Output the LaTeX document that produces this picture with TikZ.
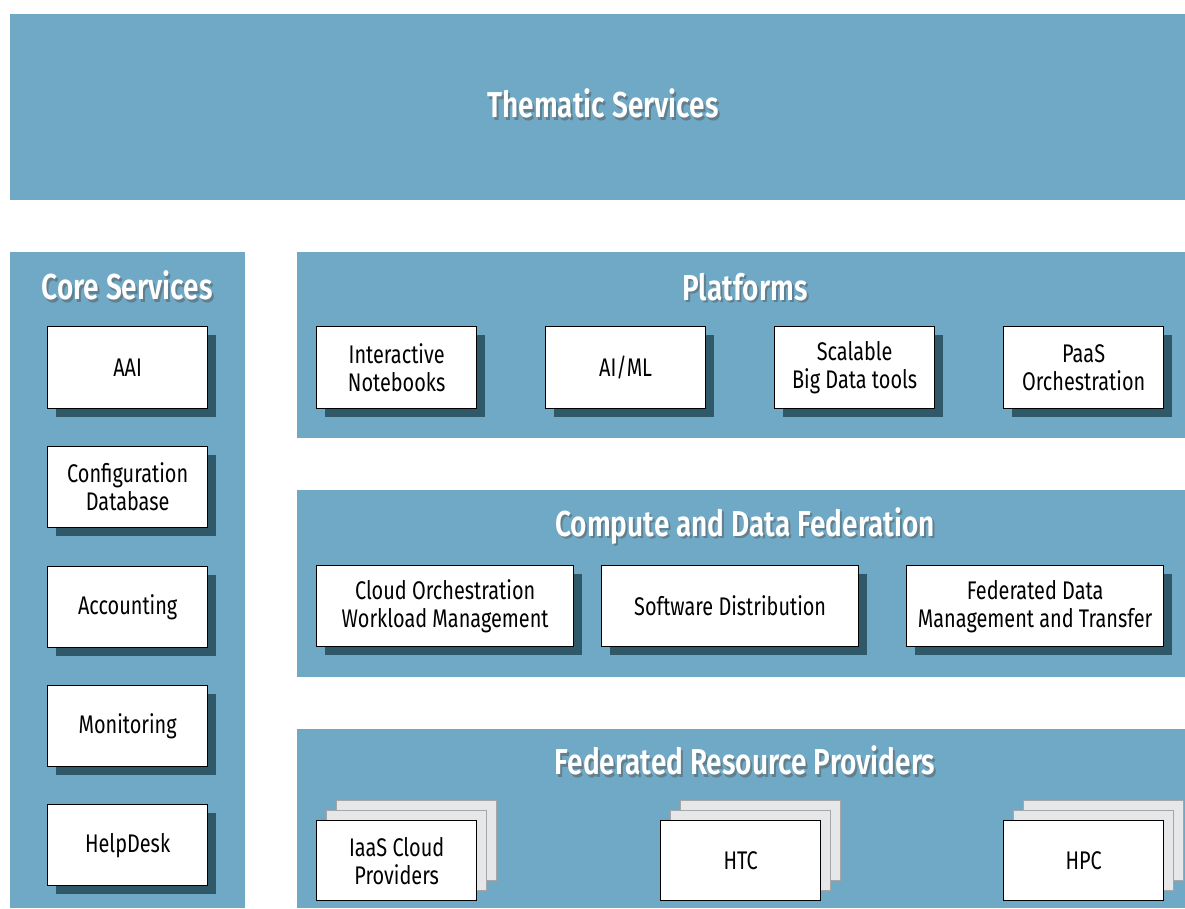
\documentclass[tikz,border=0pt]{standalone}
\usepackage{fontspec}
\setmainfont{Fira Sans}[FakeStretch=0.78]
\newfontfamily\titlefont{Fira Sans SemiBold}[FakeStretch=0.78]
\usetikzlibrary{positioning}
\definecolor{panelblue}{HTML}{70A9C6}
\definecolor{boxshadow}{HTML}{2F5868}
\definecolor{titleshadow}{HTML}{3A5F70}
\definecolor{cardgray}{HTML}{E6E7E8}
\newcommand{\shtext}[1]{\rlap{\hspace{2pt}\raisebox{-2.5pt}{\color{titleshadow!80}#1}}#1}
\tikzset{
  panel/.style={fill=panelblue, draw=none},
  card/.style={draw=black, line width=1.3pt, fill=white, align=center, font=\fontsize{25.5}{28}\selectfont, inner sep=0pt},
  shadowbox/.style={fill=boxshadow, draw=none},
  backcard/.style={draw=gray!70, line width=1pt, fill=cardgray},
  ttl/.style={text=white, font=\titlefont\fontsize{36}{36}\selectfont, inner sep=0pt},
}
\begin{document}
\begin{tikzpicture}[x=1pt,y=-1pt]
\useasboundingbox (0,0) rectangle (1185,908);
\fill[white] (0,0) rectangle (1185,908);
% panels
\fill[panel] (10,14) rectangle (1185,200);
\fill[panel] (10,252) rectangle (245,908);
\fill[panel] (297,252) rectangle (1185,438);
\fill[panel] (297,490) rectangle (1185,677);
\fill[panel] (297,729) rectangle (1185,908);
% titles
\node[ttl] (ts) at (603,105) {\shtext{Thematic Services}};
\node[ttl] (cs) at (127,287) {\shtext{Core Services}};
\node[ttl] (pl) at (745,288) {\shtext{Platforms}};
\node[ttl] (cd) at (745,527) {\shtext{Compute and Data Federation}};
\node[ttl] (fr) at (745,762) {\shtext{Federated Resource Providers}};
% boxes with shadows
\foreach \x/\y/\w/\h/\n/\t in {
  47/326/160/82/aai/AAI,
  47/446/160/81/cfg/{Configuration\\Database},
  47/566/160/81/acc/Accounting,
  47/685/160/81/mon/Monitoring,
  47/804/160/81/hd/HelpDesk,
  316/326/160/82/nb/{Interactive\\Notebooks},
  545/326/160/82/ai/{AI/ML},
  774/326/160/82/bd/{Scalable\\Big Data tools},
  1003/326/160/82/paas/{PaaS\\Orchestration},
  316/565/257/81/co/{Cloud Orchestration\\Workload Management},
  601/565/257/81/sd/Software Distribution,
  906/565/257/81/fd/{Federated Data\\Management and Transfer}}{
  \fill[shadowbox] (\x+9,\y+9) rectangle ++(\w,\h);
  \node[card, minimum width=\w pt, minimum height=\h pt, anchor=north west] (\n) at (\x,\y) {\t};
}
% stacked cards
\foreach \x/\n/\t in {316/iaas/{IaaS Cloud\\Providers}, 660/htc/HTC, 1003/hpc/HPC}{
  \draw[backcard] (\x+20,800) rectangle ++(160,80);
  \draw[backcard] (\x+10,810) rectangle ++(160,80);
  \node[card, minimum width=160pt, minimum height=80pt, anchor=north west] (\n) at (\x,820) {\t};
}
\end{tikzpicture}
\end{document}
